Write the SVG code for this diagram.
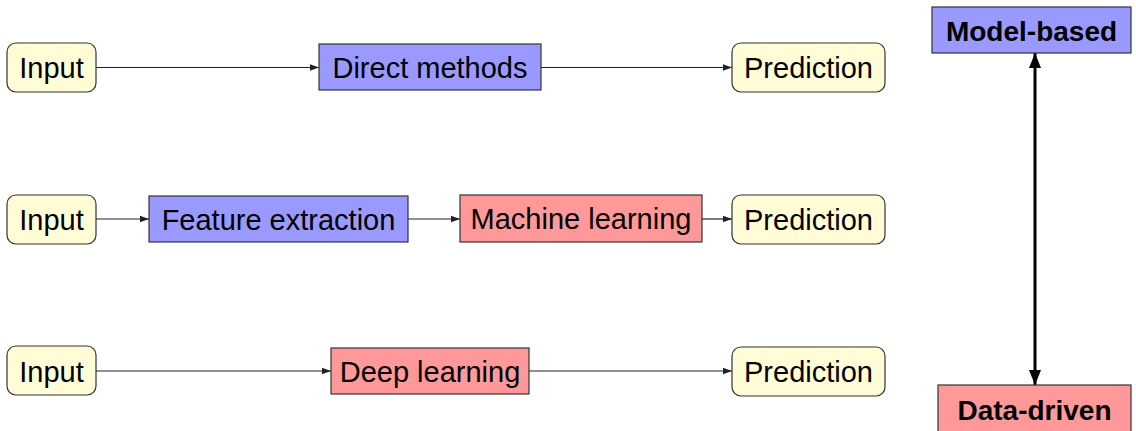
<svg xmlns="http://www.w3.org/2000/svg" width="1136" height="431" viewBox="0 0 1136 431">
  <defs>
    <style>
      .term { fill: #fffcd6; stroke: #333; stroke-width: 1.2; }
      .model { fill: #9999ff; stroke: #333; stroke-width: 1.2; }
      .data { fill: #ff9999; stroke: #333; stroke-width: 1.2; }
      .lbl { font-family: "Liberation Sans", Arial, sans-serif; font-size: 29px; fill: #000; text-anchor: middle; }
      .bold { font-family: "Liberation Sans", Arial, sans-serif; font-weight: bold; font-size: 28px; fill: #000; text-anchor: middle; }
      .flow { stroke: #222; stroke-width: 1.2; fill: none; marker-end: url(#tip); }
      .axis { stroke: #000; stroke-width: 3; fill: none; marker-start: url(#bigtipStart); marker-end: url(#bigtip); }
    </style>
    <marker id="tip" markerUnits="userSpaceOnUse" markerWidth="10" markerHeight="8" refX="9" refY="4" orient="auto">
      <path d="M0,0.8 L9,4 L0,7.2 Z" fill="#222"/>
    </marker>
    <marker id="bigtip" markerUnits="userSpaceOnUse" markerWidth="16" markerHeight="14" refX="15" refY="7" orient="auto">
      <path d="M0,1 L15,7 L0,13 Z" fill="#000"/>
    </marker>
    <marker id="bigtipStart" markerUnits="userSpaceOnUse" markerWidth="16" markerHeight="14" refX="0" refY="7" orient="auto">
      <path d="M15,1 L0,7 L15,13 Z" fill="#000"/>
    </marker>
  </defs>

  <g id="connectors">
    <line class="flow" x1="96" y1="67.5" x2="319" y2="67.5"/>
    <line class="flow" x1="541" y1="67.5" x2="732" y2="67.5"/>
    <line class="flow" x1="96" y1="219" x2="149" y2="219"/>
    <line class="flow" x1="408" y1="219" x2="460" y2="219"/>
    <line class="flow" x1="702" y1="219" x2="732" y2="219"/>
    <line class="flow" x1="96" y1="371" x2="331" y2="371"/>
    <line class="flow" x1="529" y1="371" x2="732" y2="371"/>
    <line class="axis" x1="1035" y1="53" x2="1035" y2="385"/>
  </g>

  <!-- row 1: direct methods -->
  <g id="input1"><rect class="term" x="7" y="43" width="89" height="49" rx="9"/><text class="lbl" x="51.5" y="78">Input</text></g>
  <g id="direct"><rect class="model" x="319" y="44" width="222" height="46"/><text class="lbl" x="430" y="78">Direct methods</text></g>
  <g id="pred1"><rect class="term" x="732" y="43" width="153" height="49" rx="9"/><text class="lbl" x="808.5" y="78">Prediction</text></g>

  <!-- row 2: feature extraction + machine learning -->
  <g id="input2"><rect class="term" x="7" y="195" width="89" height="49" rx="9"/><text class="lbl" x="51.5" y="229.5">Input</text></g>
  <g id="features"><rect class="model" x="149" y="196" width="259" height="46"/><text class="lbl" x="278.5" y="229.5">Feature extraction</text></g>
  <g id="ml"><rect class="data" x="460" y="195" width="242" height="47"/><text class="lbl" x="581" y="229">Machine learning</text></g>
  <g id="pred2"><rect class="term" x="732" y="195" width="153" height="49" rx="9"/><text class="lbl" x="808.5" y="229.5">Prediction</text></g>

  <!-- row 3: deep learning -->
  <g id="input3"><rect class="term" x="7" y="346" width="89" height="49" rx="9"/><text class="lbl" x="51.5" y="381.5">Input</text></g>
  <g id="dl"><rect class="data" x="331" y="348" width="198" height="46"/><text class="lbl" x="430" y="381.5">Deep learning</text></g>
  <g id="pred3"><rect class="term" x="732" y="347" width="153" height="49" rx="9"/><text class="lbl" x="808.5" y="382">Prediction</text></g>

  <!-- scale from model-based to data-driven -->
  <g id="modelBased"><rect class="model" x="932" y="7" width="199" height="46"/><text class="bold" x="1031.5" y="40.5">Model-based</text></g>
  <g id="dataDriven"><rect class="data" x="938" y="385" width="193" height="52"/><text class="bold" x="1034.5" y="419.5">Data-driven</text></g>
</svg>
